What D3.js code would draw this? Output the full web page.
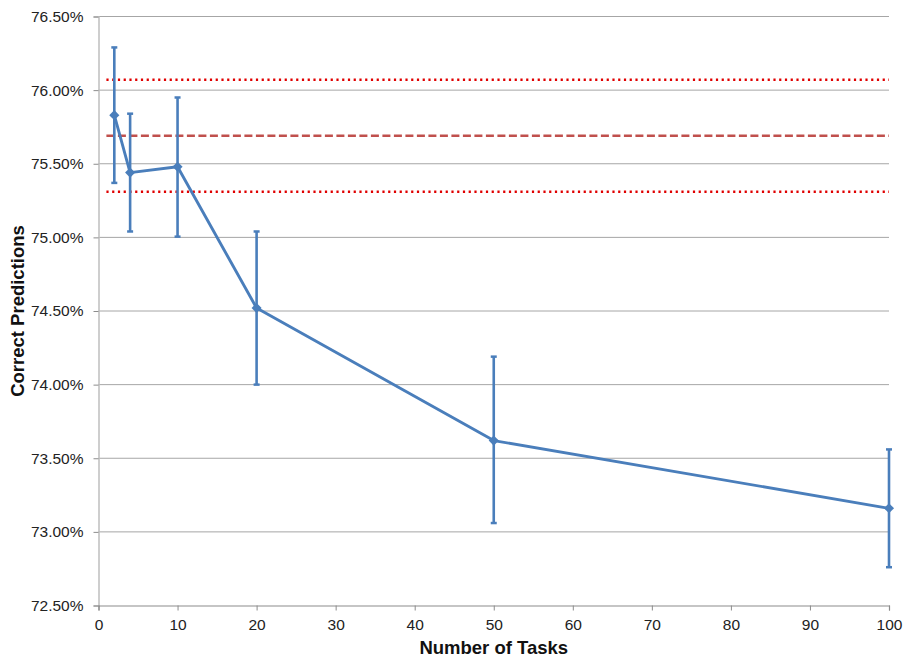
<!DOCTYPE html>
<html>
<head>
<meta charset="utf-8">
<script src="https://cdn.jsdelivr.net/npm/d3@7"></script>
<style>
  html, body { margin: 0; padding: 0; background: #fff; }
  svg { display: block; font-family: "Liberation Sans", Arial, sans-serif; }
</style>
</head>
<body>
<svg id="chart"></svg>
<script>
// values
const tasks = [2, 4, 10, 20, 50, 100];
const accuracy = [75.83, 75.44, 75.48, 74.52, 73.62, 73.16];
const errHigh = [76.29, 75.84, 75.95, 75.04, 74.19, 73.56];
const errLow = [75.37, 75.04, 75.005, 74.00, 73.06, 72.76];
const baselineMean = 75.69;
const baselineBand = [75.31, 76.07];
const baselineRange = [1, 100];
const xTicks = [0, 10, 20, 30, 40, 50, 60, 70, 80, 90, 100];
const yTicks = [72.5, 73, 73.5, 74, 74.5, 75, 75.5, 76, 76.5];

const width = 911, height = 664;
const margin = { top: 16.5, right: 22, bottom: 58.5, left: 98.5 };

const svg = d3.select('#chart')
  .attr('width', width)
  .attr('height', height);

const x = d3.scaleLinear().domain([0, 100]).range([margin.left, width - margin.right]);
const y = d3.scaleLinear().domain([72.5, 76.5]).range([height - margin.bottom, margin.top]);

const blue = '#4a7ebb';
const fmt = (d) => d.toFixed(2) + '%';

// horizontal gridlines
svg.append('g')
  .selectAll('line')
  .data(yTicks.slice(1))
  .enter().append('line')
  .attr('x1', x(0)).attr('x2', x(100))
  .attr('y1', (d) => y(d)).attr('y2', (d) => y(d))
  .attr('stroke', '#a6a6a6')
  .attr('stroke-width', 1);

// y axis
const yAxis = svg.append('g')
  .attr('transform', `translate(${x(0)},0)`)
  .call(d3.axisLeft(y).tickValues(yTicks).tickFormat(fmt).tickSize(5).tickPadding(10));
yAxis.select('.domain').attr('stroke', '#bfbfbf').attr('stroke-width', 1.5);
yAxis.selectAll('.tick line').attr('stroke', '#8c8c8c');
yAxis.selectAll('text').attr('font-size', 15.5).attr('fill', '#222');

// x axis
const xAxis = svg.append('g')
  .attr('transform', `translate(0,${y(72.5)})`)
  .call(d3.axisBottom(x).tickValues(xTicks).tickSize(5).tickPadding(8));
xAxis.select('.domain').attr('stroke', '#8c8c8c').attr('stroke-width', 1.2);
xAxis.selectAll('.tick line').attr('stroke', '#8c8c8c');
xAxis.selectAll('text').attr('font-size', 15.5).attr('fill', '#222');

// baseline reference lines
svg.append('line')
  .attr('x1', x(baselineRange[0])).attr('x2', x(baselineRange[1]))
  .attr('y1', y(baselineMean)).attr('y2', y(baselineMean))
  .attr('stroke', '#c0504d').attr('stroke-width', 2.5)
  .attr('stroke-dasharray', '8,3.5');

svg.append('g')
  .selectAll('line')
  .data(baselineBand)
  .enter().append('line')
  .attr('x1', x(baselineRange[0])).attr('x2', x(baselineRange[1]))
  .attr('y1', (d) => y(d)).attr('y2', (d) => y(d))
  .attr('stroke', '#e00000').attr('stroke-width', 2.4)
  .attr('stroke-dasharray', '2.2,3.55');

const points = tasks.map((t, i) => ({ t, v: accuracy[i], hi: errHigh[i], lo: errLow[i] }));

// error bars
const err = svg.append('g').selectAll('g')
  .data(points)
  .enter().append('g');
err.append('line')
  .attr('x1', (d) => x(d.t)).attr('x2', (d) => x(d.t))
  .attr('y1', (d) => y(d.hi)).attr('y2', (d) => y(d.lo))
  .attr('stroke', blue).attr('stroke-width', 2.6);
err.selectAll('.cap')
  .data((d) => [{ t: d.t, v: d.hi }, { t: d.t, v: d.lo }])
  .enter().append('line')
  .attr('class', 'cap')
  .attr('x1', (d) => x(d.t) - 3).attr('x2', (d) => x(d.t) + 3)
  .attr('y1', (d) => y(d.v)).attr('y2', (d) => y(d.v))
  .attr('stroke', blue).attr('stroke-width', 2.5);

// series line
svg.append('path')
  .datum(points)
  .attr('fill', 'none')
  .attr('stroke', blue)
  .attr('stroke-width', 2.9)
  .attr('stroke-linejoin', 'round')
  .attr('d', d3.line().x((d) => x(d.t)).y((d) => y(d.v)));

// diamond markers
svg.append('g').selectAll('path')
  .data(points)
  .enter().append('path')
  .attr('transform', (d) => `translate(${x(d.t)},${y(d.v)})`)
  .attr('d', d3.symbol().type(d3.symbolDiamond2).size(65))
  .attr('fill', blue);

// axis titles
svg.append('text')
  .attr('x', (x(0) + x(100)) / 2)
  .attr('y', 654)
  .attr('text-anchor', 'middle')
  .attr('font-size', 18.5)
  .attr('font-weight', 'bold')
  .attr('fill', '#111')
  .text('Number of Tasks');

svg.append('text')
  .attr('transform', `translate(24,${(y(72.5) + y(76.5)) / 2}) rotate(-90)`)
  .attr('text-anchor', 'middle')
  .attr('font-size', 18.5)
  .attr('font-weight', 'bold')
  .attr('fill', '#111')
  .text('Correct Predictions');
</script>
</body>
</html>
